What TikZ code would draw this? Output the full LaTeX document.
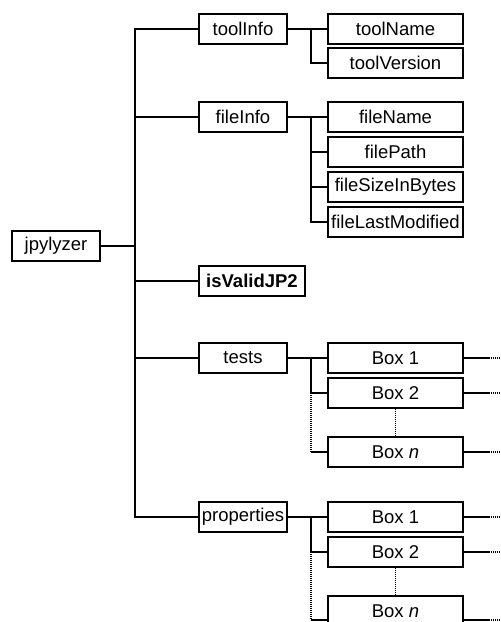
\documentclass[tikz,border=0pt]{standalone}
\usepackage{fontspec}
\setmainfont{Liberation Sans}
\usepackage{tikz}
\usetikzlibrary{positioning, calc}

\begin{document}
\begin{tikzpicture}[x=1pt, y=-1pt,
    box/.style={draw, line width=1.3pt, minimum height=30pt, inner sep=0pt,
                font=\fontsize{18.5}{22}\selectfont},
    topbox/.style={box, minimum width=88pt},
    leafbox/.style={box, minimum width=135pt},
    link/.style={line width=1.3pt},
    dots/.style={line width=1.3pt, dash pattern=on 1pt off 1pt}]
  \useasboundingbox (0,0) rectangle (501,622);
  \node[topbox] (jpylyzer) at (56,246) {jpylyzer};
  \node[topbox] (toolinfo) at (243,29) {toolInfo};
  \node[topbox] (fileinfo) at (243,117) {fileInfo};
  \node[box, minimum width=106pt] (isvalid) at (252,281) {\textbf{isValidJP2}};
  \node[topbox] (tests) at (243,358) {tests};
  \node[topbox] (properties) at (243,517) {properties};
  \node[leafbox] (toolname) at (395.5,29) {toolName};
  \node[leafbox] (toolversion) at (395.5,63) {toolVersion};
  \node[leafbox] (filename) at (395.5,117) {fileName};
  \node[leafbox] (filepath) at (395.5,152) {filePath};
  \node[leafbox] (filesize) at (395.5,187) {fileSizeInBytes};
  \node[leafbox] (filemodified) at (395.5,222) {fileLastModified};
  \node[leafbox] (tbox1) at (395.5,358) {Box 1};
  \node[leafbox] (tbox2) at (395.5,393) {Box 2};
  \node[leafbox] (tboxn) at (395.5,452) {Box \textit{n}};
  \node[leafbox] (pbox1) at (395.5,517) {Box 1};
  \node[leafbox] (pbox2) at (395.5,552) {Box 2};
  \node[leafbox] (pboxn) at (395.5,611) {Box \textit{n}};
  \coordinate (trunk) at (135,0);
  \coordinate (fork) at (311,0);
  \coordinate (pboxnw) at ([yshift=-9pt]pboxn.west);
  \coordinate (pboxne) at ([yshift=-9pt]pboxn.east);
  \draw[link] (jpylyzer.east) -- (jpylyzer.east -| trunk);
  \draw[link] (toolinfo.west) -| (trunk |- properties.west) -- (properties.west);
  \foreach \n in {fileinfo, isvalid, tests}
    \draw[link] (\n.west -| trunk) -- (\n.west);
  \draw[link] (toolinfo.east) -- (toolname.west);
  \draw[link] (toolinfo.east -| fork) |- (toolversion.west);
  \draw[link] (fileinfo.east) -- (filename.west);
  \draw[link] (fileinfo.east -| fork) |- (filemodified.west);
  \foreach \n in {filepath, filesize}
    \draw[link] (\n.west -| fork) -- (\n.west);
  \draw[link] (tests.east) -- (tbox1.west);
  \draw[link] (tests.east -| fork) |- (tbox2.west);
  \draw[dots] (tbox2.west -| fork) -- (tboxn.west -| fork);
  \draw[link] (tboxn.west -| fork) -- (tboxn.west);
  \draw[dots] (tbox2.south) -- (tboxn.north);
  \draw[link] (properties.east) -- (pbox1.west);
  \draw[link] (properties.east -| fork) |- (pbox2.west);
  \draw[dots] (pbox2.west -| fork) -- (pboxnw -| fork);
  \draw[link] (pboxnw -| fork) -- (pboxnw);
  \draw[dots] (pbox2.south) -- (pboxn.north);
  \foreach \n in {tbox1.east, tbox2.east, tboxn.east, pbox1.east, pbox2.east, pboxne} {
    \draw[link] (\n) -- ++(25,0) coordinate (stub);
    \draw[dots] (stub) -- ++(14,0);
  }
\end{tikzpicture}
\end{document}
